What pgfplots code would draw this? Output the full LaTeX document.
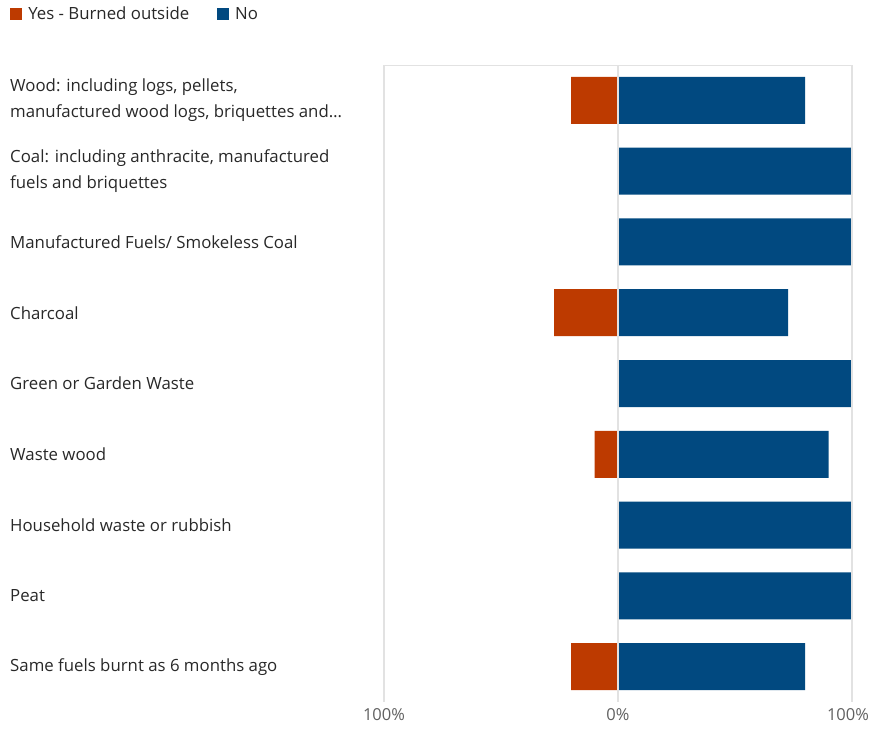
\documentclass[border=0pt]{standalone}
\usepackage{fontspec}
\setmainfont{Open Sans}
\usepackage{pgfplots}
\pgfplotsset{compat=1.18}
\definecolor{yesc}{RGB}{189,58,0}
\definecolor{noc}{RGB}{1,73,128}
\definecolor{gridc}{RGB}{226,226,226}
\definecolor{txtc}{RGB}{40,40,40}
\definecolor{tickc}{RGB}{96,96,96}
\begin{document}
\begin{tikzpicture}
\begin{axis}[
  name=ax,
  scale only axis,
  width=468bp, height=637bp,
  xmin=-100, xmax=100,
  ymin=-0.5, ymax=8.5,
  y dir=reverse,
  xtick={-100,0,100},
  xticklabels={100\%,0\%,\hspace*{-8bp}100\%},
  ytick={0,...,8},
  yticklabels={
    {Wood: including logs, pellets,\\manufactured wood logs, briquettes and…},
    {Coal: including anthracite, manufactured\\fuels and briquettes},
    {Manufactured Fuels/ Smokeless Coal},
    {Charcoal},
    {Green or Garden Waste},
    {Waste wood},
    {Household waste or rubbish},
    {Peat},
    {Same fuels burnt as 6 months ago}},
  yticklabel style={anchor=west, xshift=-374bp, align=left, inner sep=0pt,
    font=\fontsize{16.8bp}{26bp}\selectfont, text=txtc},
  xticklabel style={font=\fontsize{16.5bp}{18bp}\selectfont, text=tickc, anchor=center, yshift=-13bp, inner sep=0pt},
  major tick length=0pt,
  axis line style={draw=none},
  xmajorgrids,
  grid style={gridc, line width=1.5bp},
  axis on top,
  xbar, bar shift=0pt, bar width=47bp,
  legend style={at={(-0.799,1.095)}, anchor=north west, draw=none,
    legend columns=2, font=\fontsize{16.8bp}{18bp}\selectfont, text=txtc,
    /tikz/every even column/.append style={column sep=26bp},
    inner sep=0pt, nodes={inner sep=2bp}},
  legend image code/.code={\fill[#1] (0bp,-6bp) rectangle (12bp,6bp); \path (16bp,0bp);},
]
\addplot[fill=yesc, draw=none] coordinates {(-20,0) (0,1) (0,2) (-27.3,3) (0,4) (-10,5) (0,6) (0,7) (-20,8)};
\addlegendentry{Yes - Burned outside}
\addplot[fill=noc, draw=none] coordinates {(80,0) (100,1) (100,2) (72.7,3) (100,4) (90,5) (100,6) (100,7) (80,8)};
\addlegendentry{No}
\draw[gridc, line width=1.5bp] (rel axis cs:0,1) -- (rel axis cs:1,1);
\end{axis}
\pgfresetboundingbox
\path (ax.south west) ++(-384bp,-27bp) rectangle ++(870bp,729bp);
\end{tikzpicture}
\end{document}
